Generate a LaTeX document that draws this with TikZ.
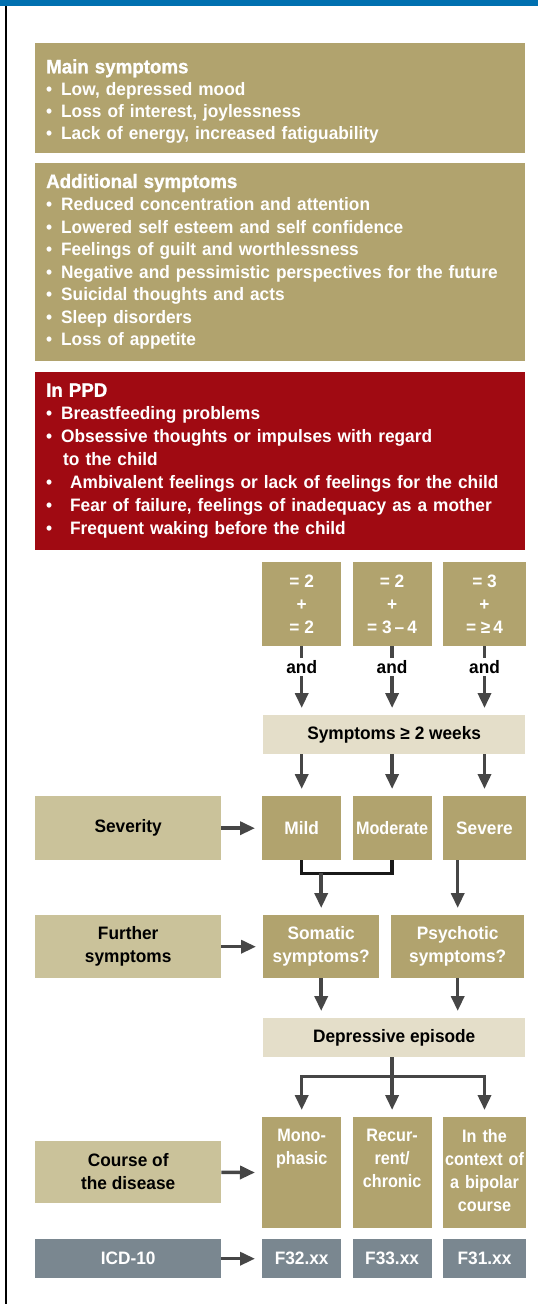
\documentclass[tikz,border=0pt]{standalone}
\usepackage{fontspec}
\setmainfont[FakeStretch=0.96]{Liberation Sans}
\newfontfamily\narrowfont[FakeStretch=0.9]{Liberation Sans}
\newfontface\headface[FakeBold=1.2,FakeStretch=0.96]{Liberation Sans Bold}
\usetikzlibrary{arrows.meta,positioning}

\definecolor{khaki}{HTML}{B1A36E}
\definecolor{lightkhaki}{HTML}{CAC29A}
\definecolor{palekhaki}{HTML}{E4DEC9}
\definecolor{ppdred}{HTML}{A00A12}
\definecolor{icdgray}{HTML}{7A8790}
\definecolor{topblue}{HTML}{0070B0}
\definecolor{arrowgray}{HTML}{464646}

\newcommand{\bul}[1][15pt]{\makebox[#1][l]{\textbullet}}
\newcommand{\boxhead}[1]{{\headface\fontsize{19.5}{22.5}\selectfont #1}}
\newcommand{\toptext}[1]{\parbox[t][87pt][t]{\linewidth}{\centering\narrowfont #1}}

\begin{document}
\begin{tikzpicture}[x=1pt,y=-1pt,
  every node/.style={font=\fontsize{18}{22.5}\selectfont\bfseries},
  bigbox/.style={fill=khaki,text=white,anchor=north west,minimum width=490pt,text width=468pt,inner xsep=11pt,align=left},
  cell/.style={fill=khaki,text=white,align=center,inner sep=0pt,font=\fontsize{18}{23}\selectfont\bfseries},
  sidebox/.style={fill=lightkhaki,minimum width=186pt,align=center,inner sep=0pt,font=\fontsize{18}{23}\selectfont\bfseries},
  barbox/.style={fill=palekhaki,minimum width=262pt,minimum height=39pt,inner sep=0pt,anchor=north west},
  icdbox/.style={fill=icdgray,text=white,minimum height=39pt,inner sep=0pt},
  course/.style={fill=khaki,text=white,text width=#1,inner xsep=0pt,inner ysep=12pt,font=\fontsize{18}{23}\selectfont\bfseries},
  andlbl/.style={fill=white,text=black,inner xsep=1pt,inner ysep=2pt,pos=0.3},
  arrow/.style={-{Triangle[length=15pt,width=13pt]},line width=3.5pt,draw=arrowgray,shorten >=7pt},
  bracket/.style={line width=3.5pt,draw=black!90},
  node distance=11pt
]
\useasboundingbox (0,0) rectangle (538,1304);
\fill[topblue] (0,0) rectangle (538,6);
\draw[line width=2pt] (6,6) -- (6,1304);

% symptom lists
\node[bigbox,minimum height=110pt,font=\fontsize{18}{22}\selectfont\bfseries] (mainsym) at (35,43)
  {\rule{0pt}{20pt}\boxhead{Main symptoms}\\
   \bul Low, depressed mood\\
   \bul Loss of interest, joylessness\\
   \bul Lack of energy, increased fatiguability};
\node[bigbox,minimum height=198pt,below=9pt of mainsym] (addsym)
  {\boxhead{Additional symptoms}\\
   \bul Reduced concentration and attention\\
   \bul Lowered self esteem and self confidence\\
   \bul Feelings of guilt and worthlessness\\
   \bul Negative and pessimistic perspectives for the future\\
   \bul Suicidal thoughts and acts\\
   \bul Sleep disorders\\
   \bul Loss of appetite};
\node[bigbox,fill=ppdred,minimum height=178pt,below=11pt of addsym,font=\fontsize{18}{23}\selectfont\bfseries] (ppd)
  {\boxhead{In PPD}\\
   \bul Breastfeeding problems\\
   \bul Obsessive thoughts or impulses with regard\\
   \hspace*{17pt}to the child\\
   \bul[18pt] Ambivalent feelings or lack of feelings for the child\\
   \bul[18pt] Fear of failure, feelings of inadequacy as a mother\\
   \bul[18pt] Frequent waking before the child};

% criteria
\node[cell,minimum width=79pt,minimum height=84pt,anchor=north west] (crit1) at (262,562) {= 2\\+\\= 2};
\node[cell,minimum width=79pt,minimum height=84pt,right=of crit1] (crit2) {= 2\\+\\= 3\,–\,4};
\node[cell,minimum width=83pt,minimum height=84pt,right=of crit2] (crit3) {= 3\\+\\= ≥\,4};
\node[barbox] (symp) at (263,715) {Symptoms ≥ 2 weeks};

% severity
\node[sidebox,minimum height=64pt,anchor=north west] (severity) at (35,796) {Severity};
\node[cell,minimum width=79pt,minimum height=64pt,anchor=north west] (mild) at (262,796) {Mild};
\node[cell,minimum width=79pt,minimum height=64pt,right=of mild] (moderate) {\narrowfont Moderate};
\node[cell,minimum width=83pt,minimum height=64pt,right=of moderate] (severe) {Severe};

% further symptoms
\node[sidebox,minimum height=63pt,anchor=north west] (further) at (35,915) {Further\\symptoms};
\node[cell,minimum width=116pt,minimum height=63pt,anchor=north west] (somatic) at (263,915) {Somatic\\symptoms?};
\node[cell,minimum width=133pt,minimum height=63pt,anchor=north west] (psychotic) at (391,915) {Psychotic\\symptoms?};
\node[barbox] (depr) at (263,1018) {Depressive episode};

% course
\node[sidebox,minimum height=62pt,anchor=west] (course) at (35,1172) {Course of\\the disease};
\node[course=79pt,anchor=north west] (mono) at (262,1117) {\toptext{Mono-\\phasic}};
\node[course=79pt,right=of mono] (recur) {\toptext{Recur-\\rent/\\chronic}};
\node[course=83pt,right=of recur] (context) {\toptext{In the\\context of\\a bipolar\\course}};

% ICD-10
\node[icdbox,minimum width=186pt,anchor=north west] (icd) at (35,1239) {ICD-10};
\node[icdbox,minimum width=79pt,anchor=north west] (f32) at (262,1239) {F32.xx};
\node[icdbox,minimum width=79pt,right=of f32] (f33) {F33.xx};
\node[icdbox,minimum width=83pt,right=of f33] (f31) {F31.xx};

% connectors
\foreach \c in {crit1,crit2,crit3}
  \draw[arrow] (\c) -- node[andlbl] {and} (\c |- symp.north);
\foreach \c in {mild,moderate,severe}
  \draw[arrow] (symp.south -| \c) -- (\c);
\draw[arrow] (severity) -- (mild);
\path (mild.south) ++(0,13) coordinate (mildjoin);
\draw[bracket] (mild.south) -- (mildjoin) -| (moderate.south);
\draw[arrow] (mildjoin -| somatic) -- (somatic);
\draw[arrow] (severe.south -| psychotic) -- (psychotic);
\draw[arrow] (further) -- (somatic);
\draw[arrow] (somatic) -- (somatic |- depr.north);
\draw[arrow] (psychotic) -- (psychotic |- depr.north);
\path (depr.south -| recur) ++(0,19) coordinate (fork);
\draw[arrow] (depr.south -| recur) -- (recur);
\draw[arrow] (fork) -| (mono);
\draw[arrow] (fork) -| (context);
\draw[arrow] (course) -- (mono);
\draw[arrow] (icd) -- (f32);
\end{tikzpicture}
\end{document}
